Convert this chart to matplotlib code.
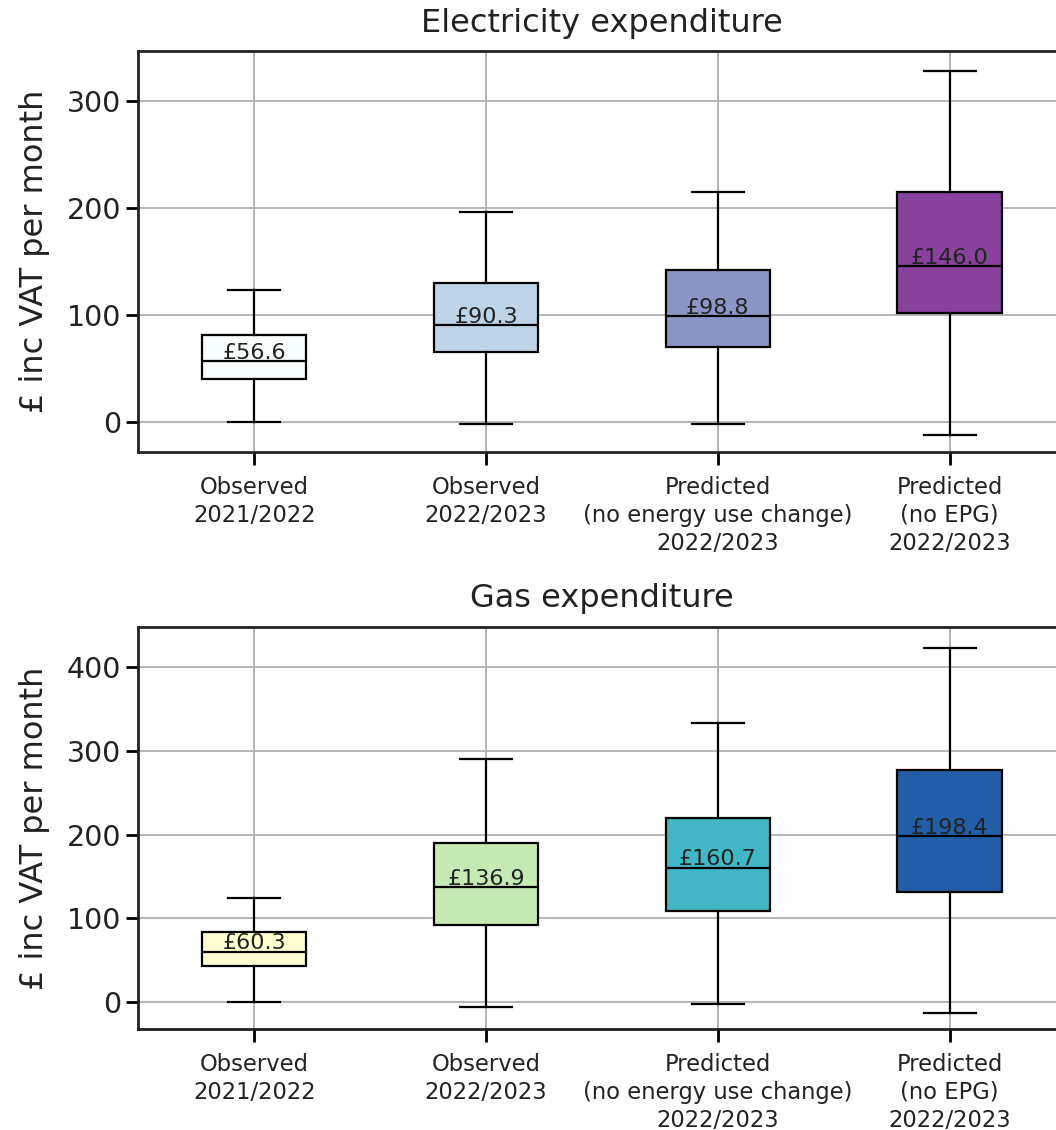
import matplotlib
matplotlib.use("Agg")
import matplotlib.pyplot as plt

categorias = ["Observed\n2021/2022", "Observed\n2022/2023",
              "Predicted\n(no energy use change)\n2022/2023",
              "Predicted\n(no EPG)\n2022/2023"]

# electricidad: bigote inf, q1, mediana, q3, bigote sup
elec_whislo = [0, -2, -2, -12]
elec_q1 = [40, 65, 70, 101.5]
elec_med = [56.6, 90.3, 98.8, 146.0]
elec_q3 = [81, 129.5, 142, 215]
elec_whishi = [123, 196.5, 215, 328]

# gas
gas_whislo = [0, -6.5, -2, -13]
gas_q1 = [42.5, 92.5, 109, 132]
gas_med = [60.3, 136.9, 160.7, 198.4]
gas_q3 = [83.5, 190, 220, 277.5]
gas_whishi = [124, 290.5, 333, 423]

colores_elec = ['#f7fcfd', '#bfd3e6', '#8c96c6', '#88419d']
colores_gas = ['#ffffd0', '#c7e9b4', '#41b6c4', '#225ea8']

texto = '#222222'
plt.rcParams['font.family'] = 'DejaVu Sans'


def dibujar(ax, whislo, q1, med, q3, whishi, colores, titulo, ylim, yticks):
    stats = []
    for i in range(len(med)):
        stats.append({'whislo': whislo[i], 'q1': q1[i], 'med': med[i],
                      'q3': q3[i], 'whishi': whishi[i], 'fliers': []})
    ax.grid(True, color='#b0b0b0', linewidth=1.3)
    ax.set_axisbelow(True)
    cajas = ax.bxp(stats, positions=range(1, len(med) + 1), widths=0.45,
                   patch_artist=True, showfliers=False,
                   boxprops=dict(edgecolor='black', linewidth=1.6),
                   whiskerprops=dict(color='black', linewidth=1.6),
                   capprops=dict(color='black', linewidth=1.6),
                   medianprops=dict(color='black', linewidth=1.6))
    for caja, c in zip(cajas['boxes'], colores):
        caja.set_facecolor(c)
    # etiquetas con el valor de la mediana
    for i, m in enumerate(med):
        ax.annotate(f"£{m:.1f}", (i + 1, m), xytext=(0, 1.5),
                    textcoords='offset points', ha='center', va='baseline',
                    fontsize=16, color=texto)
    ax.set_xlim(0.5, len(med) + 0.5)
    ax.set_ylim(ylim)
    ax.set_yticks(yticks)
    ax.set_xticks(range(1, len(med) + 1))
    ax.set_xticklabels(categorias, fontsize=16.3, color=texto, linespacing=1.28)
    ax.tick_params(axis='y', labelsize=20.5, labelcolor=texto)
    ax.tick_params(axis='both', length=9, width=2)
    ax.tick_params(axis='x', pad=8)
    for s in ax.spines.values():
        s.set_linewidth(2)
        s.set_color('#222222')
    ax.set_title(titulo, fontsize=23, color=texto, pad=14)
    ax.set_ylabel("£ inc VAT per month", fontsize=23, color=texto, labelpad=12)


fig = plt.figure(figsize=(10.56, 11.30), dpi=100)
ax1 = fig.add_axes([0.131, 0.600, 0.878, 0.3549])
ax2 = fig.add_axes([0.131, 0.0891, 0.878, 0.3563])

dibujar(ax1, elec_whislo, elec_q1, elec_med, elec_q3, elec_whishi,
        colores_elec, "Electricity expenditure", (-28, 346.5), [0, 100, 200, 300])
dibujar(ax2, gas_whislo, gas_q1, gas_med, gas_q3, gas_whishi,
        colores_gas, "Gas expenditure", (-32.6, 448.5), [0, 100, 200, 300, 400])

fig.savefig("out.png", dpi=100)
